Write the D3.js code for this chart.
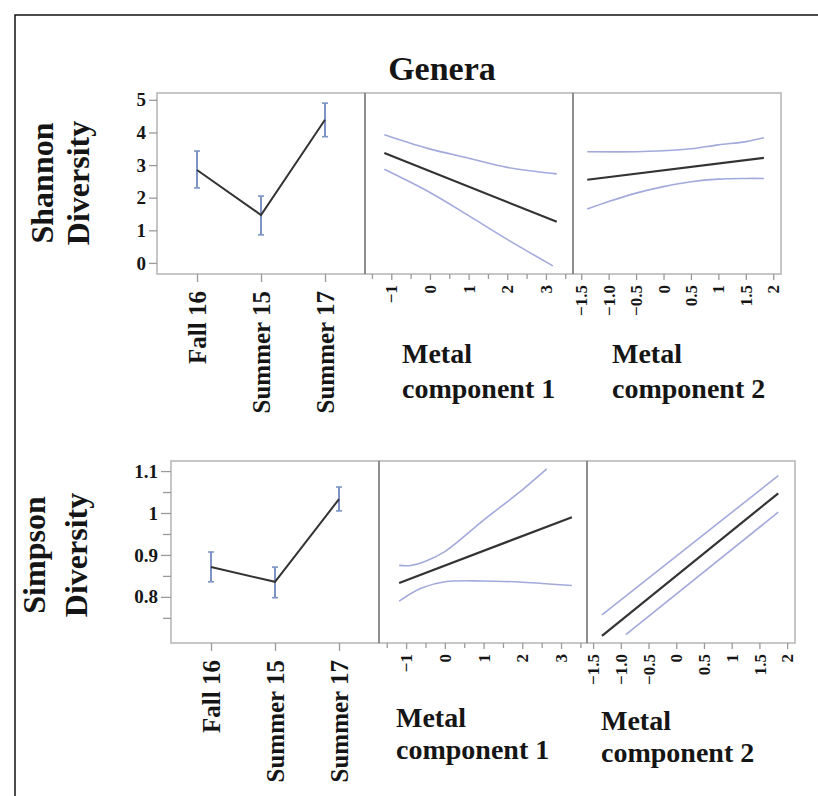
<!DOCTYPE html>
<html><head><meta charset="utf-8">
<script src="https://cdn.jsdelivr.net/npm/d3@7"></script>
<style>
body{margin:0;background:#fff}
svg{display:block}
text{font-family:"Liberation Serif","Times New Roman",serif;font-weight:bold;fill:#151515}
</style>
</head><body>
<svg id="c" width="818" height="796"></svg>
<script>
// ---------- DATA ----------
const chartTitle = "Genera";
const categories = ["Fall 16", "Summer 15", "Summer 17"];

const shannonMean = [2.85, 1.47, 4.39];
const shannonLow  = [2.30, 0.86, 3.87];
const shannonHigh = [3.43, 2.05, 4.90];

const simpsonMean = [0.871, 0.836, 1.033];
const simpsonLow  = [0.836, 0.798, 1.005];
const simpsonHigh = [0.907, 0.871, 1.062];

// Shannon vs Metal component 1
const shM1FitX = [-1.18, 3.28];               const shM1Fit = [3.37, 1.26];
const shM1UpX  = [-1.18, -0.08, 1, 2, 3.28];   const shM1Up  = [3.93, 3.52, 3.21, 2.93, 2.73];
const shM1LoX  = [-1.18, 0, 1, 2, 3.18];       const shM1Lo  = [2.87, 2.16, 1.45, 0.72, -0.09];
// Shannon vs Metal component 2
const shM2FitX = [-1.39, 1.83];                          const shM2Fit = [2.55, 3.22];
const shM2UpX  = [-1.39, -0.5, 0, 0.5, 1, 1.5, 1.83];    const shM2Up  = [3.41, 3.41, 3.44, 3.50, 3.62, 3.72, 3.84];
const shM2LoX  = [-1.39, -1.0, -0.5, 0, 0.5, 1, 1.5, 1.83]; const shM2Lo = [1.65, 1.88, 2.14, 2.34, 2.49, 2.57, 2.59, 2.59];
// Simpson vs Metal component 1
const siM1FitX = [-1.18, 3.28];                          const siM1Fit = [0.833, 0.990];
const siM1UpX  = [-1.18, -0.88, -0.53, 0, 1, 2, 2.63];   const siM1Up  = [0.875, 0.875, 0.884, 0.908, 0.983, 1.055, 1.105];
const siM1LoX  = [-1.18, -0.6, 0, 1, 2, 3.28];           const siM1Lo  = [0.790, 0.821, 0.836, 0.838, 0.835, 0.827];
// Simpson vs Metal component 2
const siM2FitX = [-1.34, 1.84]; const siM2Fit = [0.707, 1.047];
const siM2UpX  = [-1.34, 1.84]; const siM2Up  = [0.757, 1.089];
const siM2LoX  = [-0.91, 1.84]; const siM2Lo  = [0.710, 1.002];

// tick values / labels
const shannonTicks = [0, 1, 2, 3, 4, 5];
const simpsonTicks = [0.8, 0.9, 1, 1.1];
const simpsonMinor = [0.75, 0.85, 0.95, 1.05];
const simpsonTickLabels = ["0.8", "0.9", "1", "1.1"];
const m1Ticks = [-1, 0, 1, 2, 3];
const m1Minor = [-1.5, -0.5, 0.5, 1.5, 2.5, 3.5];
const m2Ticks = [-1.5, -1.0, -0.5, 0, 0.5, 1, 1.5, 2];
const m2TickLabels = ["\u22121.5", "\u22121.0", "\u22120.5", "0", "0.5", "1", "1.5", "2"];

// ---------- DRAW ----------
const svg = d3.select("#c");
svg.append("rect").attr("width", 818).attr("height", 796).attr("fill", "#fff");
svg.append("path").attr("d", "M15,796V15H818").attr("fill", "none")
  .attr("stroke", "#111").attr("stroke-width", 1.5);

svg.append("text").attr("x", 442).attr("y", 80).attr("text-anchor", "middle")
  .attr("font-size", 34).text(chartTitle);

const TICK = "#9a9a9a", FRAME = "#b4b4b4", DIV = "#8e8e8e";
const CI = "#a3aadb", FIT = "#333", EBAR = "#7d93c6";

function pts(xs, ys) { return xs.map((x, i) => [x, ys[i]]); }

function drawRow(cfg) {
  const { top, bottom, left, w, yDomain } = cfg;
  const y = d3.scaleLinear().domain(yDomain).range([bottom, top]);
  const xs = [
    d3.scalePoint().domain(categories).range([left, left + w]).padding(0.625),
    d3.scaleLinear().domain(cfg.m1Domain).range([left + w, left + 2 * w]),
    d3.scaleLinear().domain(cfg.m2Domain).range([left + 2 * w, left + 3 * w + 1])
  ];

  // frames
  for (let i = 0; i < 3; i++) {
    svg.append("rect").attr("x", left + i * w).attr("y", top)
      .attr("width", w).attr("height", bottom - top)
      .attr("fill", "none").attr("stroke", FRAME).attr("stroke-width", 1.5);
  }
  for (let i = 1; i < 3; i++) {
    svg.append("line").attr("x1", left + i * w).attr("x2", left + i * w)
      .attr("y1", top).attr("y2", bottom).attr("stroke", DIV).attr("stroke-width", 2);
  }

  // y axis
  const ya = svg.append("g").attr("transform", `translate(${left},0)`)
    .call(d3.axisLeft(y).tickValues(cfg.yTicks).tickSize(cfg.yTickLen).tickPadding(3)
      .tickFormat((d, i) => cfg.yLabels[i]));
  ya.select(".domain").remove();
  ya.selectAll("line").attr("stroke", TICK).attr("stroke-width", 1.3);
  ya.selectAll("text").attr("font-size", 19).attr("font-family", null).attr("fill", "#151515");
  if (cfg.yMinor.length) {
    const ym = svg.append("g").attr("transform", `translate(${left},0)`)
      .call(d3.axisLeft(y).tickValues(cfg.yMinor).tickSize(cfg.yTickLen - 2).tickFormat(""));
    ym.select(".domain").remove();
    ym.selectAll("line").attr("stroke", TICK).attr("stroke-width", 1.3);
  }

  // x axes
  function xAxis(scale, vals, labels, fs, gap, tlen) {
    const g = svg.append("g").attr("transform", `translate(0,${bottom})`)
      .call(d3.axisBottom(scale).tickValues(vals).tickSize(tlen).tickFormat((d, i) => labels[i]));
    g.select(".domain").remove();
    g.selectAll("line").attr("stroke", TICK).attr("stroke-width", 1.3);
    g.selectAll("text").attr("font-size", fs).attr("font-family", null).attr("fill", "#151515")
      .attr("transform", "rotate(-90)").attr("x", -gap).attr("y", 0)
      .attr("dy", "0.33em").attr("text-anchor", "end");
    return g;
  }
  xAxis(xs[0], categories, categories, 25, cfg.catGap, 8);
  xAxis(xs[1], m1Ticks, m1Ticks.map(d => d < 0 ? "\u2212" + Math.abs(d) : String(d)), 17, 11, 6);
  const mm = svg.append("g").attr("transform", `translate(0,${bottom})`)
    .call(d3.axisBottom(xs[1]).tickValues(m1Minor).tickSize(5).tickFormat(""));
  mm.select(".domain").remove();
  mm.selectAll("line").attr("stroke", TICK).attr("stroke-width", 1.3);
  xAxis(xs[2], m2Ticks, m2TickLabels, 17, 11, 6);

  // panel 1: means + error bars
  const x0 = xs[0];
  const eb = svg.append("g");
  categories.forEach((c, i) => {
    const cx = x0(c);
    eb.append("line").attr("x1", cx).attr("x2", cx)
      .attr("y1", y(cfg.low[i])).attr("y2", y(cfg.high[i]))
      .attr("stroke", EBAR).attr("stroke-width", 2);
    [cfg.low[i], cfg.high[i]].forEach(v => {
      eb.append("line").attr("x1", cx - 3).attr("x2", cx + 3)
        .attr("y1", y(v)).attr("y2", y(v)).attr("stroke", EBAR).attr("stroke-width", 1.6);
    });
  });
  svg.append("path")
    .datum(categories.map((c, i) => [c, cfg.mean[i]]))
    .attr("d", d3.line().x(d => x0(d[0])).y(d => y(d[1])))
    .attr("fill", "none").attr("stroke", FIT).attr("stroke-width", 2);

  // panels 2,3: fits + CI
  [[xs[1], cfg.m1], [xs[2], cfg.m2]].forEach(([sx, set]) => {
    const ln = d3.line().x(d => sx(d[0])).y(d => y(d[1])).curve(d3.curveCatmullRom.alpha(0.5));
    [set.up, set.lo].forEach(p => svg.append("path").datum(p).attr("d", ln)
      .attr("fill", "none").attr("stroke", CI).attr("stroke-width", 1.6));
    svg.append("path").datum(set.fit).attr("d", ln)
      .attr("fill", "none").attr("stroke", FIT).attr("stroke-width", 2.2);
  });

  // y title
  cfg.yTitle.forEach((t, i) => {
    svg.append("text").attr("font-size", 32).attr("text-anchor", "middle")
      .attr("transform", `translate(${cfg.yTitleX[i]},${cfg.yTitleY}) rotate(-90)`).text(t);
  });
  // x titles
  cfg.xTitles.forEach(tt => {
    tt.lines.forEach((t, i) => {
      svg.append("text").attr("font-size", 28).attr("x", tt.x).attr("y", tt.y[i]).text(t);
    });
  });
}

drawRow({
  top: 93, bottom: 274, left: 157, w: 208, yDomain: [-0.34, 5.21],
  yTicks: shannonTicks, yLabels: shannonTicks.map(String), yMinor: [], yTickLen: 8,
  m1Domain: [-1.68, 3.70], m2Domain: [-1.65, 2.16], catGap: 17,
  mean: shannonMean, low: shannonLow, high: shannonHigh,
  m1: { fit: pts(shM1FitX, shM1Fit), up: pts(shM1UpX, shM1Up), lo: pts(shM1LoX, shM1Lo) },
  m2: { fit: pts(shM2FitX, shM2Fit), up: pts(shM2UpX, shM2Up), lo: pts(shM2LoX, shM2Lo) },
  yTitle: ["Shannon", "Diversity"], yTitleX: [53, 89], yTitleY: 183,
  xTitles: [
    { x: 402, y: [363, 398], lines: ["Metal", "component 1"] },
    { x: 612, y: [363, 398], lines: ["Metal", "component 2"] }
  ]
});

drawRow({
  top: 461, bottom: 643, left: 171, w: 208, yDomain: [0.69, 1.124],
  yTicks: simpsonTicks, yLabels: simpsonTickLabels, yMinor: simpsonMinor, yTickLen: 10,
  m1Domain: [-1.70, 3.67], m2Domain: [-1.61, 2.16], catGap: 17,
  mean: simpsonMean, low: simpsonLow, high: simpsonHigh,
  m1: { fit: pts(siM1FitX, siM1Fit), up: pts(siM1UpX, siM1Up), lo: pts(siM1LoX, siM1Lo) },
  m2: { fit: pts(siM2FitX, siM2Fit), up: pts(siM2UpX, siM2Up), lo: pts(siM2LoX, siM2Lo) },
  yTitle: ["Simpson", "Diversity"], yTitleX: [45, 87], yTitleY: 555,
  xTitles: [
    { x: 396, y: [727, 759], lines: ["Metal", "component 1"] },
    { x: 601, y: [730, 762], lines: ["Metal", "component 2"] }
  ]
});
</script>
</body></html>
